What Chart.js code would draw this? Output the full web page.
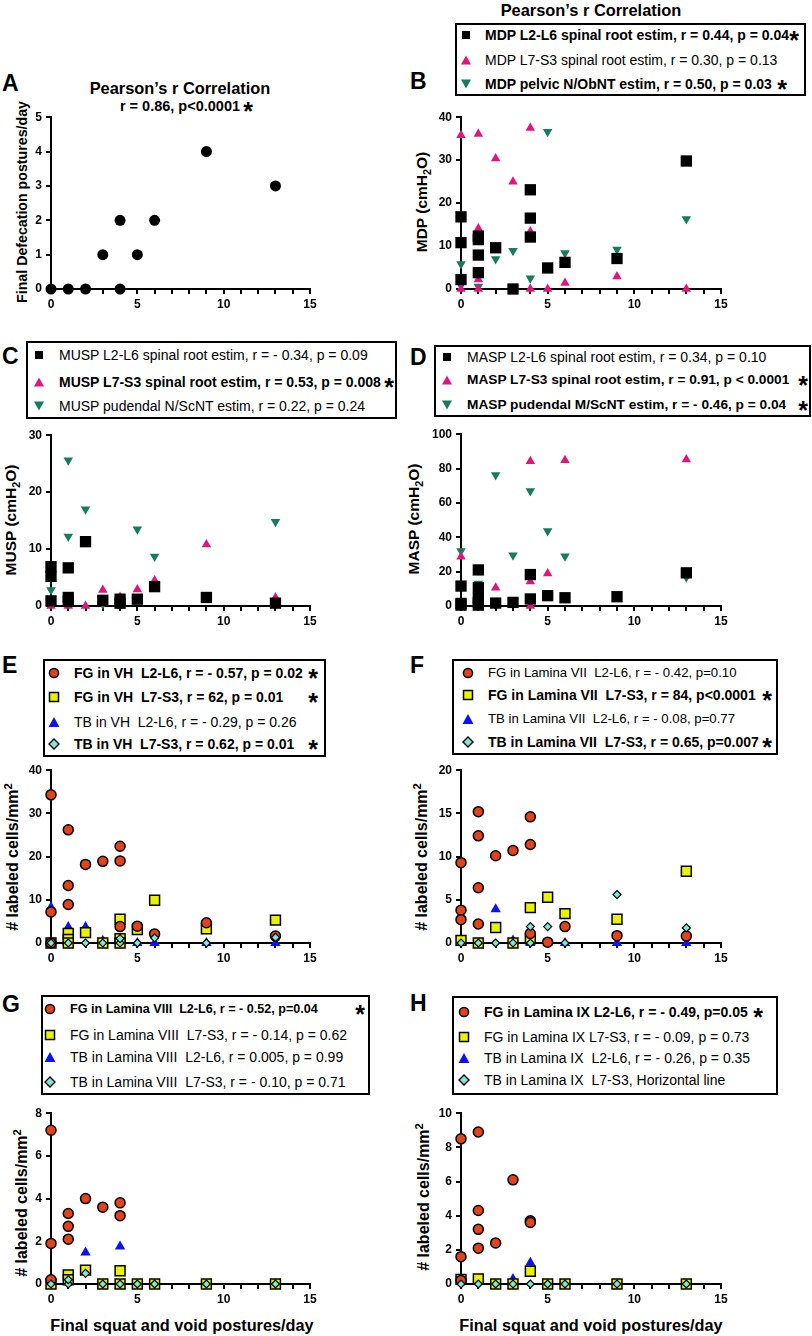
<!DOCTYPE html>
<html>
<head>
<meta charset="utf-8">
<script src="https://cdn.jsdelivr.net/npm/chart.js@4.4.1/dist/chart.umd.min.js"></script>
<style>
  body { margin: 0; background: #fff; }
  #page { position: relative; width: 812px; height: 1336px; overflow: hidden;
          font-family: "Liberation Sans", Arial, sans-serif; color: #000; }
  .t { position: absolute; white-space: pre; line-height: 1; }
  .letter { font-size: 23px; font-weight: bold; transform: translateY(-50%); }
  .ytitle { font-size: 15.5px; font-weight: bold; transform: translate(-50%, -50%) rotate(-90deg); }
  .xtitle { font-size: 16.3px; font-weight: bold; transform: translate(-50%, -50%); }
  .head { font-size: 16.4px; font-weight: bold; transform: translate(-50%, -50%); }
  .box { position: absolute; border: 2px solid #000; box-sizing: border-box; }
  .row { font-size: 14px; transform: translateY(-50%); }
  .star { font-size: 25px; font-weight: bold; transform: translate(-50%, -28%); }
  .mk { position: absolute; transform: translate(-50%, -50%); }
  sub, sup { font-size: 70%; line-height: 0; }
  canvas { position: absolute; }
</style>
</head>
<body>
<div id="page"></div>
<script>
// x = final squat and void postures/day, y = value
const defecation = [[0,0],[1,0],[2,0],[3,1],[4,2],[4,0],[5,1],[6,2],[9,4],[13,3]];

const mdpL2L6 = [[0,16.8],[0,10.8],[0,2.2],[1,12.3],[1,11.5],[1,7.9],[1,3.8],[2,9.6],[3,0],[4,23.1],[4,16.5],[4,12.1],[5,4.9],[6,6.2],[9,7.1],[13,29.8]];
const mdpL7S3 = [[0,35.8],[0,0],[1,36.1],[1,14.1],[1,2.2],[1,0],[2,30.4],[3,25.0],[4,37.5],[4,13.4],[4,0],[5,0],[6,1.4],[9,2.9],[13,0]];
const mdpPelvic = [[0,5.8],[0,0.8],[1,0.6],[2,7.0],[3,8.9],[4,2.5],[5,36.6],[6,8.4],[9,9.2],[13,16.3]];

const muspL2L6 = [[0,6.9],[0,5.2],[0,0.9],[1,6.7],[1,1.5],[1,0.8],[2,11.3],[3,1.0],[4,1.2],[4,0.5],[5,1.2],[6,3.4],[9,1.5],[13,0.5]];
const muspL7S3 = [[0,0],[1,0],[2,0],[3,2.8],[4,1.6],[4,0],[5,2.9],[6,4.5],[9,10.8],[13,1.5]];
const muspPudendal = [[0,2.8],[1,25.6],[1,12.2],[2,17.0],[3,0.3],[5,13.5],[6,8.7],[13,14.8]];

const maspL2L6 = [[0,11.6],[0,1.5],[0,0.5],[1,21.0],[1,10.6],[1,4.4],[1,2.1],[1,0.5],[2,1.7],[3,2.1],[4,18.3],[4,4.1],[5,6.0],[6,4.8],[9,5.4],[13,19.3]];
const maspL7S3 = [[0,28.6],[1,0],[2,10.6],[3,0.5],[4,84.2],[4,14.3],[4,0],[5,18.9],[6,84.9],[13,85.3]];
const maspPudendal = [[0,32.0],[1,13.1],[1,9.0],[2,76.3],[3,29.5],[4,67.0],[5,43.6],[6,29.0],[13,16.8]];

const vhFgL2L6 = [[0,34.3],[0,7.2],[0,0],[1,26.2],[1,13.3],[1,8.9],[2,18.2],[3,18.9],[4,22.4],[4,19.0],[4,3.8],[5,3.9],[6,2.1],[9,4.7],[13,1.6]];
const vhFgL7S3 = [[0,0],[1,2.2],[1,0.8],[1,0],[2,2.4],[3,0],[4,5.5],[4,1.0],[4,0],[5,3.1],[6,9.9],[9,3.3],[13,5.3]];
const vhTbL2L6 = [[0,8.3],[1,3.7],[2,3.7],[3,0.5],[4,4.0],[5,0],[6,0],[9,0],[13,0]];
const vhTbL7S3 = [[0,0],[1,0],[2,0],[3,0],[4,0],[4,1.0],[5,0],[6,1.2],[9,0],[13,1.3]];

const l7FgL2L6 = [[0,9.3],[0,3.8],[0,2.7],[1,15.2],[1,12.4],[1,6.4],[1,2.2],[2,10.1],[3,10.7],[4,14.6],[4,11.4],[4,1.1],[5,0.1],[6,1.9],[9,0.85],[13,0.8]];
const l7FgL7S3 = [[0,0.3],[1,0],[2,1.8],[3,0],[4,4.1],[4,0.5],[5,5.3],[6,3.4],[9,2.75],[13,8.3]];
const l7TbL2L6 = [[2,3.9],[3,0.3],[4,0],[5,0],[6,0],[9,0],[13,0]];
const l7TbL7S3 = [[0,0],[1,0],[2,0],[3,0],[4,0],[4,1.9],[5,1.9],[6,0],[9,5.6],[13,1.75]];

const l8FgL2L6 = [[0,7.2],[0,1.9],[0,0.2],[1,3.3],[1,2.7],[1,2.1],[2,4.0],[3,3.6],[4,3.8],[4,3.2]];
const l8FgL7S3 = [[0,0],[1,0.42],[1,0.2],[2,0.65],[3,0],[4,0.62],[4,0],[5,0],[6,0],[9,0],[13,0]];
const l8TbL2L6 = [[2,1.47],[4,1.76]];
const l8TbL7S3 = [[0,0],[1,0],[1,0.2],[2,0.5],[3,0],[4,0],[5,0],[6,0],[9,0],[13,0]];

const l9FgL2L6 = [[0,8.5],[0,1.6],[0,0.2],[1,8.9],[1,4.3],[1,3.2],[1,2.1],[2,2.4],[3,6.1],[4,3.7],[4,3.6]];
const l9FgL7S3 = [[0,0.27],[1,0.3],[2,0],[3,0],[4,0.75],[5,0],[6,0],[9,0],[13,0]];
const l9TbL2L6 = [[3,0.3],[4,1.24]];
const l9TbL7S3 = [[0,0],[1,0],[2,0],[3,0],[4,0],[5,0],[6,0],[9,0],[13,0]];

const xTicks = [0, 5, 10, 15];

const PINK = '#E4147F', GREEN = '#187B5E', ORANGE = '#E2431A', YELLOW = '#E9F200', BLUE = '#0B12F7', CYAN = '#7AEBD9';

const page = document.getElementById('page');
Chart.defaults.font.family = '"Liberation Sans", Arial, sans-serif';

function txt(cls, x, y, html) {
  const d = document.createElement('div');
  d.className = 't ' + cls;
  d.style.left = x + 'px';
  d.style.top = y + 'px';
  d.innerHTML = html;
  page.appendChild(d);
  return d;
}

const pts = arr => arr.map(([x, y]) => ({ x, y }));

// marker styles used for the chart points
const styles = {
  dot:  { pointStyle: 'circle', pointRadius: 5.5, backgroundColor: '#000', borderColor: '#000', borderWidth: 0 },
  sq:   { pointStyle: 'rect', pointRadius: 8, backgroundColor: '#000', borderColor: '#000', borderWidth: 0 },
  tri:  { pointStyle: 'triangle', pointRadius: 5.5, backgroundColor: PINK, borderColor: PINK, borderWidth: 0 },
  dtri: { pointStyle: 'triangle', pointRotation: 180, pointRadius: 5.5, backgroundColor: GREEN, borderColor: GREEN, borderWidth: 0 },
  circ: { pointStyle: 'circle', pointRadius: 5, backgroundColor: ORANGE, borderColor: '#000', borderWidth: 1.5 },
  ysq:  { pointStyle: 'rect', pointRadius: 7, backgroundColor: YELLOW, borderColor: '#000', borderWidth: 1.5 },
  btri: { pointStyle: 'triangle', pointRadius: 6, backgroundColor: BLUE, borderColor: BLUE, borderWidth: 0 },
  dia:  { pointStyle: 'rectRot', pointRadius: 4, backgroundColor: CYAN, borderColor: '#000', borderWidth: 1.2 }
};

const swatch = {
  sq:   '<svg width="10" height="10"><rect x="1" y="1" width="8" height="8" fill="#000"/></svg>',
  tri:  '<svg width="11" height="10"><polygon points="5.5,0.5 10.5,9.5 0.5,9.5" fill="' + PINK + '"/></svg>',
  dtri: '<svg width="11" height="10"><polygon points="0.5,0.5 10.5,0.5 5.5,9.5" fill="' + GREEN + '"/></svg>',
  circ: '<svg width="12" height="12"><circle cx="6" cy="6" r="4.6" fill="' + ORANGE + '" stroke="#000" stroke-width="1.5"/></svg>',
  ysq:  '<svg width="12" height="12"><rect x="1.5" y="1.5" width="9" height="9" fill="' + YELLOW + '" stroke="#000" stroke-width="1.5"/></svg>',
  btri: '<svg width="12" height="11"><polygon points="6,0.5 11.5,10.5 0.5,10.5" fill="' + BLUE + '"/></svg>',
  dia:  '<svg width="12" height="12"><polygon points="6,1 11,6 6,11 1,6" fill="' + CYAN + '" stroke="#000" stroke-width="1.4"/></svg>'
};

function set(data, kind, order) {
  return Object.assign({ data: pts(data), order: order, clip: false, showLine: false,
                         pointHoverRadius: 0 }, styles[kind]);
}

// area: x0 = pixel of x=0, x1 = pixel of x=15, yTop = pixel of yMax, yBot = pixel of y=0
function scatter(area, yMax, yStep, datasets) {
  const L = 45, R = 16, T = 10, B = 28;
  const cv = document.createElement('canvas');
  const w = area.x1 - area.x0 + L + R, h = area.yBot - area.yTop + T + B;
  cv.width = w; cv.height = h;
  cv.style.left = (area.x0 - L) + 'px';
  cv.style.top = (area.yTop - T) + 'px';
  cv.style.width = w + 'px'; cv.style.height = h + 'px';
  page.appendChild(cv);
  const axisFont = { size: 12, weight: 'bold' };
  return new Chart(cv, {
    type: 'scatter',
    data: { datasets: datasets },
    options: {
      responsive: false,
      animation: false,
      events: [],
      layout: { padding: { left: 0, right: R, top: T, bottom: 0 } },
      plugins: { legend: { display: false }, tooltip: { enabled: false } },
      scales: {
        x: {
          type: 'linear', min: 0, max: 15,
          afterFit: s => { s.height = B; },
          border: { color: '#000', width: 2 },
          grid: { drawOnChartArea: false, drawTicks: true, tickLength: 5, color: '#000', lineWidth: 2 },
          ticks: { stepSize: 1, autoSkip: false, maxRotation: 0, padding: 3, color: '#000', font: axisFont,
                   callback: v => xTicks.includes(v) ? v : '' }
        },
        y: {
          type: 'linear', min: 0, max: yMax,
          afterFit: s => { s.width = L; },
          border: { color: '#000', width: 2 },
          grid: { drawOnChartArea: false, drawTicks: true, tickLength: 5, color: '#000', lineWidth: 2 },
          ticks: { stepSize: yStep, padding: 4, color: '#000', font: axisFont }
        }
      }
    }
  });
}

function legend(box, mx, tx, rows) {
  const d = document.createElement('div');
  d.className = 'box';
  d.style.left = box[0] + 'px'; d.style.top = box[1] + 'px';
  d.style.width = (box[2] - box[0]) + 'px'; d.style.height = (box[3] - box[1]) + 'px';
  page.appendChild(d);
  rows.forEach(r => {
    const m = txt('mk', mx, r.y, swatch[r.mk]);
    m.style.lineHeight = '0';
    const t = txt('row', tx, r.y, r.text);
    if (r.bold) t.style.fontWeight = 'bold';
    if (r.size) t.style.fontSize = r.size + 'px';
    if (r.star) txt('star', r.star, r.y, '*');
  });
}

// ---------- A ----------
txt('letter', 2, 83, 'A');
txt('head', 180, 88, 'Pearson’s r Correlation');
txt('head', 182, 106, 'r = 0.86, p<0.0001 ').style.fontSize = '14.5px';
txt('star', 248, 106, '*');
txt('ytitle', 22, 202, 'Final Defecation postures/day').style.fontSize = '14.2px';
scatter({ x0: 51, x1: 310, yTop: 116, yBot: 289 }, 5, 1, [set(defecation, 'dot', 0)]);

// ---------- B ----------
txt('head', 591, 10, 'Pearson’s r Correlation');
txt('letter', 410, 81, 'B');
legend([455, 23, 806, 96], 466, 485, [
  { y: 35, bold: true, mk: 'sq', text: 'MDP L2-L6 spinal root estim, r = 0.44, p = 0.04', star: 794 },
  { y: 60, mk: 'tri', text: 'MDP L7-S3 spinal root estim, r = 0.30, p = 0.13' },
  { y: 84, bold: true, mk: 'dtri', text: 'MDP pelvic N/ObNT estim, r = 0.50, p = 0.03', star: 782 }
]);
txt('ytitle', 422, 202, 'MDP (cmH<sub>2</sub>O)');
scatter({ x0: 461, x1: 721, yTop: 116, yBot: 289 }, 40, 10, [
  set(mdpL2L6, 'sq', 0), set(mdpL7S3, 'tri', 1), set(mdpPelvic, 'dtri', 2)
]);

// ---------- C ----------
txt('letter', 2, 356, 'C');
legend([26, 341, 397, 419], 39, 59, [
  { y: 355, mk: 'sq', text: 'MUSP L2-L6 spinal root estim, r = - 0.34, p = 0.09' },
  { y: 382, bold: true, mk: 'tri', text: 'MUSP L7-S3 spinal root estim, r = 0.53, p = 0.008', star: 389 },
  { y: 406, mk: 'dtri', text: 'MUSP pudendal N/ScNT estim, r = 0.22, p = 0.24' }
]);
txt('ytitle', 11, 520, 'MUSP (cmH<sub>2</sub>O)');
scatter({ x0: 51, x1: 310, yTop: 434, yBot: 606 }, 30, 10, [
  set(muspL2L6, 'sq', 0), set(muspL7S3, 'tri', 1), set(muspPudendal, 'dtri', 2)
]);

// ---------- D ----------
txt('letter', 410, 357, 'D');
legend([434, 345, 811, 417], 447, 467, [
  { y: 357, mk: 'sq', text: 'MASP L2-L6 spinal root estim, r = 0.34, p = 0.10' },
  { y: 380, bold: true, mk: 'tri', text: 'MASP L7-S3 spinal root estim, r = 0.91, p < 0.0001', star: 803, size: 13.7 },
  { y: 405, bold: true, mk: 'dtri', text: 'MASP pudendal M/ScNT estim, r = - 0.46, p = 0.04', star: 803, size: 13.7 }
]);
txt('ytitle', 414, 519, 'MASP (cmH<sub>2</sub>O)');
scatter({ x0: 461, x1: 721, yTop: 433, yBot: 606 }, 100, 20, [
  set(maspL2L6, 'sq', 0), set(maspL7S3, 'tri', 1), set(maspPudendal, 'dtri', 2)
]);

// ---------- E ----------
txt('letter', 2, 665, 'E');
legend([43, 659, 326, 757], 54, 74, [
  { y: 673, bold: true, mk: 'circ', text: 'FG in VH  L2-L6, r = - 0.57, p = 0.02', star: 313 },
  { y: 697, bold: true, mk: 'ysq', text: 'FG in VH  L7-S3, r = 62, p = 0.01', star: 313 },
  { y: 722, mk: 'btri', text: 'TB in VH  L2-L6, r = - 0.29, p = 0.26' },
  { y: 744, bold: true, mk: 'dia', text: 'TB in VH  L7-S3, r = 0.62, p = 0.01', star: 313 }
]);
txt('ytitle', 13, 857, '# labeled cells/mm<sup>2</sup>').style.fontSize = '16px';
scatter({ x0: 51, x1: 310, yTop: 769, yBot: 943 }, 40, 10, [
  set(vhTbL7S3, 'dia', 0), set(vhFgL2L6, 'circ', 1), set(vhFgL7S3, 'ysq', 2), set(vhTbL2L6, 'btri', 3)
]);

// ---------- F ----------
txt('letter', 410, 665, 'F');
legend([452, 659, 778, 755], 468, 488, [
  { y: 673, mk: 'circ', text: 'FG in Lamina VII  L2-L6, r = - 0.42, p=0.10', size: 13.2 },
  { y: 695, bold: true, mk: 'ysq', text: 'FG in Lamina VII  L7-S3, r = 84, p<0.0001', star: 767 },
  { y: 719, mk: 'btri', text: 'TB in Lamina VII  L2-L6, r = - 0.08, p=0.77', size: 13.2 },
  { y: 742, bold: true, mk: 'dia', text: 'TB in Lamina VII  L7-S3, r = 0.65, p=0.007', star: 767 }
]);
txt('ytitle', 422, 857, '# labeled cells/mm<sup>2</sup>').style.fontSize = '16px';
scatter({ x0: 461, x1: 721, yTop: 769, yBot: 943 }, 20, 5, [
  set(l7TbL7S3, 'dia', 0), set(l7FgL2L6, 'circ', 1), set(l7FgL7S3, 'ysq', 2), set(l7TbL2L6, 'btri', 3)
]);

// ---------- G ----------
txt('letter', 2, 1004, 'G');
legend([41, 995, 370, 1095], 50, 70, [
  { y: 1009, bold: true, mk: 'circ', text: 'FG in Lamina VIII  L2-L6, r = - 0.52, p=0.04', star: 360, size: 12.6 },
  { y: 1035, mk: 'ysq', text: 'FG in Lamina VIII  L7-S3, r = - 0.14, p = 0.62' },
  { y: 1057, mk: 'btri', text: 'TB in Lamina VIII  L2-L6, r = 0.005, p = 0.99' },
  { y: 1082, mk: 'dia', text: 'TB in Lamina VIII  L7-S3, r = - 0.10, p = 0.71' }
]);
txt('ytitle', 22, 1203, '# labeled cells/mm<sup>2</sup>').style.fontSize = '16px';
scatter({ x0: 51, x1: 310, yTop: 1112, yBot: 1284 }, 8, 2, [
  set(l8TbL7S3, 'dia', 0), set(l8FgL2L6, 'circ', 1), set(l8FgL7S3, 'ysq', 2), set(l8TbL2L6, 'btri', 3)
]);
txt('xtitle', 182, 1325, 'Final squat and void postures/day');

// ---------- H ----------
txt('letter', 410, 1003, 'H');
legend([452, 996, 778, 1095], 464, 484, [
  { y: 1012, bold: true, mk: 'circ', text: 'FG in Lamina IX L2-L6, r = - 0.49, p=0.05', star: 758 },
  { y: 1037, mk: 'ysq', text: 'FG in Lamina IX L7-S3, r = - 0.09, p = 0.73' },
  { y: 1058, mk: 'btri', text: 'TB in Lamina IX  L2-L6, r = - 0.26, p = 0.35' },
  { y: 1080, mk: 'dia', text: 'TB in Lamina IX  L7-S3, Horizontal line' }
]);
txt('ytitle', 424, 1197, '# labeled cells/mm<sup>2</sup>').style.fontSize = '16px';
scatter({ x0: 461, x1: 721, yTop: 1112, yBot: 1284 }, 10, 2, [
  set(l9TbL7S3, 'dia', 0), set(l9FgL2L6, 'circ', 1), set(l9FgL7S3, 'ysq', 2), set(l9TbL2L6, 'btri', 3)
]);
txt('xtitle', 591, 1325, 'Final squat and void postures/day');
</script>
</body>
</html>
